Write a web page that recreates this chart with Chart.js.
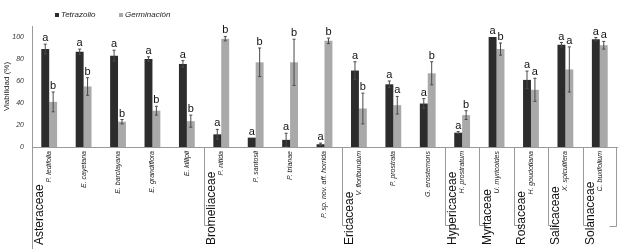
<!DOCTYPE html>
<html>
<head>
<meta charset="utf-8">
<script src="https://cdn.jsdelivr.net/npm/chart.js@4.4.1/dist/chart.umd.min.js"></script>
<style>
html, body { margin: 0; padding: 0; background: #fff; }
#wrap { width: 624px; height: 249px; }
</style>
</head>
<body>
<div id="wrap"><canvas id="myChart" width="624" height="249"></canvas></div>
<script>
const speciesLabels = ['P. ledifolia', 'E. cayetana', 'E. barclayana', 'E. grandiflora', 'E. killipii',
    'P. nitida', 'P. santosii', 'P. trianae', 'P. sp. nov. aff. horrida',
    'V. floribundum', 'P. prostrata', 'G. erostemons',
    'H. prostratum', 'U. myricoides', 'H. goudotiana', 'X. spiculifera', 'C. buxifolium'];
const familyLabels = ['Asteraceae', 'Bromeliaceae', 'Ericaceae', 'Hypericaceae', 'Myrtaceae', 'Rosaceae', 'Salicaceae', 'Solanaceae'];
const familySizes = [5, 4, 3, 1, 1, 1, 1, 1];

const tetrazolio = [89, 86.5, 83, 80, 75.5, 11.5, 8.5, 6.5, 2.5, 69.5, 57, 39.5, 13, 100, 61, 93, 98];
const germinacion = [41, 55, 23, 33, 23.5, 98.5, 77, 77, 96.5, 35, 38, 67, 29, 89, 52, 70.5, 92.5];
const errTetrazolio = [4.5, 2.5, 5, 2, 3, 4.5, 0, 6, 1, 8, 3, 4.5, 1, 0, 8, 2, 1.5];
const errGerminacion = [9, 8, 2, 4, 5.5, 2, 13, 21, 2.5, 14, 8, 10.5, 4, 5.5, 10.5, 20.5, 3.5];
const letrasTetrazolio = ['a', 'a', 'a', 'a', 'a', 'a', 'a', 'a', 'a', 'a', 'a', 'a', 'a', 'a', 'a', 'a', 'a'];
const letrasGerminacion = ['b', 'b', 'b', 'b', 'b', 'b', 'b', 'b', 'b', 'b', 'a', 'b', 'b', 'b', 'a', 'a', 'a'];

const yTicks = [0, 20, 40, 60, 80, 100];

const errores = [errTetrazolio, errGerminacion];
const letras = [letrasTetrazolio, letrasGerminacion];

// error bars, letters, family labels, separators and legend
const extras = {
    id: 'extras',
    afterDatasetsDraw(chart) {
        const ctx = chart.ctx;
        const y = chart.scales.y;
        ctx.save();
        chart.data.datasets.forEach((ds, i) => {
            const meta = chart.getDatasetMeta(i);
            meta.data.forEach((bar, j) => {
                const v = ds.data[j];
                const e = errores[i][j];
                const top = y.getPixelForValue(v + e);
                if (e > 0) {
                    const bot = y.getPixelForValue(v - e);
                    ctx.strokeStyle = '#4a4a4a';
                    ctx.lineWidth = 1;
                    ctx.beginPath();
                    ctx.moveTo(bar.x, top);
                    ctx.lineTo(bar.x, bot);
                    ctx.moveTo(bar.x - 1.5, top);
                    ctx.lineTo(bar.x + 1.5, top);
                    ctx.moveTo(bar.x - 1.5, bot);
                    ctx.lineTo(bar.x + 1.5, bot);
                    ctx.stroke();
                }
                ctx.fillStyle = '#111';
                ctx.font = '11px "Liberation Sans", Arial, sans-serif';
                ctx.textAlign = 'center';
                ctx.textBaseline = 'alphabetic';
                ctx.fillText(letras[i][j], bar.x, top - 3);
            });
        });
        ctx.restore();
    },
    afterDraw(chart) {
        const ctx = chart.ctx;
        const x = chart.scales.x;
        const area = chart.chartArea;
        const step = x.getPixelForValue(1) - x.getPixelForValue(0);
        ctx.save();
        ctx.strokeStyle = '#9a9a9a';
        ctx.lineWidth = 1;
        // y axis carried down past the zero line
        ctx.beginPath();
        ctx.moveTo(area.left + 0.5, area.bottom);
        ctx.lineTo(area.left + 0.5, 249);
        ctx.stroke();

        let k = 0;
        familyLabels.forEach((fam, f) => {
            const left = x.getPixelForValue(k) - step / 2;
            if (f > 0) {
                const lx = Math.round(left) + 0.5;
                ctx.beginPath();
                ctx.moveTo(lx, area.bottom);
                ctx.lineTo(lx, 225.5);
                ctx.lineTo(lx + 8, 225.5);
                ctx.stroke();
            }
            ctx.save();
            ctx.translate(left + 8, 245);
            ctx.rotate(-Math.PI / 2);
            ctx.fillStyle = '#111';
            ctx.font = '12px "Liberation Sans", Arial, sans-serif';
            ctx.textAlign = 'left';
            ctx.textBaseline = 'middle';
            ctx.fillText(fam, 0, 0);
            ctx.restore();
            k += familySizes[f];
        });
        const rx = Math.round(area.right) - 0.5;
        ctx.beginPath();
        ctx.moveTo(rx, area.bottom);
        ctx.lineTo(rx, 226.5);
        ctx.lineTo(rx - 7, 226.5);
        ctx.stroke();

        // legend
        let lx = 55;
        ctx.font = 'italic 8px "Liberation Sans", Arial, sans-serif';
        ctx.textBaseline = 'middle';
        ctx.textAlign = 'left';
        chart.data.datasets.forEach(ds => {
            ctx.fillStyle = ds.backgroundColor;
            ctx.fillRect(lx, 13, 4, 4);
            ctx.fillStyle = '#222';
            ctx.fillText(ds.label, lx + 6, 15);
            lx += 64;
        });
        ctx.restore();
    }
};

const ctx = document.getElementById('myChart').getContext('2d');
const myChart = new Chart(ctx, {
    type: 'bar',
    data: {
        labels: speciesLabels,
        datasets: [{
            label: 'Tetrazolio',
            data: tetrazolio,
            backgroundColor: '#2c2c2c',
            barPercentage: 1.0,
            categoryPercentage: 0.46
        },
        {
            label: 'Germinación',
            data: germinacion,
            backgroundColor: '#a9a9a9',
            barPercentage: 1.0,
            categoryPercentage: 0.46
        }]
    },
    options: {
        responsive: false,
        animation: false,
        layout: {
            padding: { top: 26, right: 7, left: 0, bottom: 0 }
        },
        plugins: {
            legend: { display: false },
            tooltip: { enabled: false }
        },
        scales: {
            x: {
                grid: { display: false, drawTicks: false },
                border: { display: true, color: '#9a9a9a' },
                ticks: {
                    autoSkip: false,
                    minRotation: 90,
                    maxRotation: 90,
                    padding: 4,
                    color: '#222',
                    font: { family: '"Liberation Sans", Arial, sans-serif', size: 7, style: 'italic' }
                },
                afterFit(scale) { scale.height = 102; }
            },
            y: {
                min: 0,
                max: 110,
                grid: { display: false, drawTicks: false },
                border: { display: true, color: '#9a9a9a' },
                ticks: {
                    stepSize: 20,
                    padding: 8,
                    color: '#333',
                    font: { family: '"Liberation Sans", Arial, sans-serif', size: 7, style: 'italic' }
                },
                afterBuildTicks(scale) {
                    scale.ticks = yTicks.map(v => ({ value: v }));
                },
                title: {
                    display: true,
                    text: 'Viabilidad (%)',
                    color: '#222',
                    padding: { top: 2, bottom: 2 },
                    font: { family: '"Liberation Sans", Arial, sans-serif', size: 8 }
                },
                afterFit(scale) { scale.width = 32; }
            }
        }
    },
    plugins: [extras]
});
</script>
</body>
</html>
